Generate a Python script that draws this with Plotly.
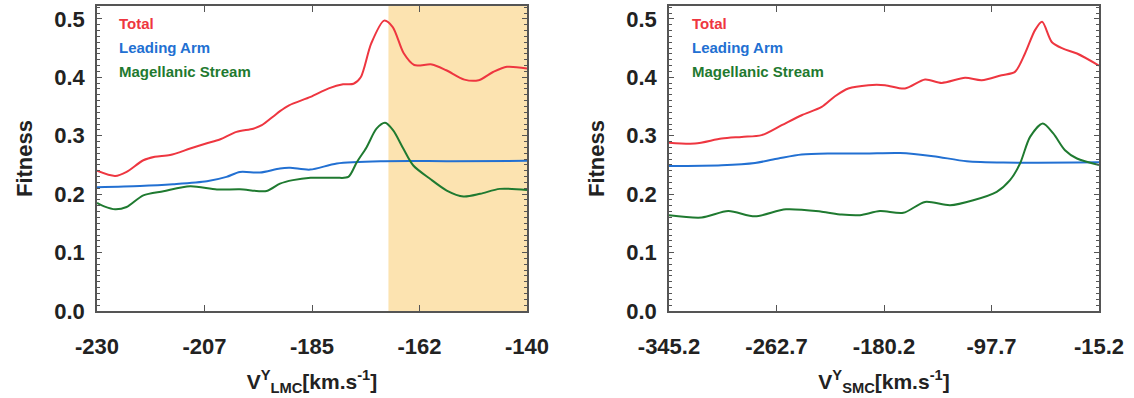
import plotly.graph_objects as go

# ---------------- data: LMC panel ----------------
lmc_total_x = [-230, -226.2, -223.8, -220.3, -217.9, -214.7, -210.5, -207.0, -204.3, -200.8,
               -197.3, -195.5, -193.1, -191.7, -189.8, -185.3, -181.5, -178.5, -176.3, -174.8,
               -172.6, -169.9, -168.1, -165.8, -163.6, -159.9, -156.9, -153.1, -150.1, -147.1,
               -144.2, -140.0]
lmc_total_y = [0.240, 0.231, 0.238, 0.258, 0.264, 0.267, 0.278, 0.287, 0.2935, 0.3065,
               0.312, 0.318, 0.333, 0.342, 0.352, 0.3665, 0.381, 0.388, 0.389, 0.400,
               0.458, 0.497, 0.486, 0.441, 0.421, 0.422, 0.412, 0.396, 0.395, 0.409,
               0.418, 0.415]

lmc_arm_x = [-230, -221.0, -214.1, -207.0, -202.9, -200.1, -195.9, -191.7, -189.6, -185.4,
             -179.8, -170.1, -156.1, -140.0]
lmc_arm_y = [0.212, 0.214, 0.217, 0.222, 0.2295, 0.238, 0.237, 0.244, 0.245, 0.242,
             0.2524, 0.2563, 0.2565, 0.257]

lmc_stream_x = [-230, -228.5, -226.2, -223.8, -220.3, -216.1, -210.5, -204.9, -200.1, -194.5,
                -191.7, -189.0, -185.3, -180.0, -177.4, -175.6, -173.6, -171.5, -169.7, -168.0,
                -165.9, -163.8, -160.3, -156.8, -153.3, -149.8, -145.7, -140.0]
lmc_stream_y = [0.185, 0.179, 0.174, 0.178, 0.198, 0.205, 0.2135, 0.208, 0.2084, 0.2055,
                0.218, 0.224, 0.228, 0.228, 0.2295, 0.255, 0.280, 0.312, 0.322, 0.309,
                0.278, 0.249, 0.2263, 0.2062, 0.1959, 0.2005, 0.209, 0.207]

lmc_shade = [-169.0, -140.0]

# ---------------- data: SMC panel ----------------
smc_total_x = [-345.2, -325.2, -304.8, -289.4, -274.1, -258.7, -243.4, -228.0, -217.8, -207.6,
               -192.2, -179.4, -164.1, -148.7, -135.9, -118.0, -105.2, -89.9, -79.7, -72.0,
               -64.3, -58.9, -51.3, -42.8, -32.1, -15.2]
smc_total_y = [0.288, 0.2866, 0.2952, 0.298, 0.301, 0.318, 0.335, 0.3493, 0.3676, 0.3808,
               0.3865, 0.3865, 0.3808, 0.3962, 0.3904, 0.399, 0.395, 0.4036, 0.4093, 0.4407,
               0.4807, 0.495, 0.460, 0.449, 0.4407, 0.420]

smc_arm_x = [-345.2, -304.8, -279.2, -261.3, -243.4, -220.3, -194.8, -167.9, -142.4, -116.7,
             -88.6, -15.2]
smc_arm_y = [0.248, 0.2495, 0.2534, 0.261, 0.2678, 0.2695, 0.2695, 0.2705, 0.265, 0.2563,
             0.254, 0.2545]

smc_stream_x = [-345.2, -320.1, -299.7, -279.2, -255.4, -228.0, -212.7, -198.6, -183.3, -165.4,
                -148.7, -129.5, -111.7, -93.7, -83.5, -75.8, -68.1, -58.4, -50.3, -41.3,
                -32.1, -15.2]
smc_stream_y = [0.164, 0.160, 0.171, 0.162, 0.174, 0.170, 0.165, 0.164, 0.171, 0.168,
                0.1866, 0.181, 0.1896, 0.204, 0.224, 0.2524, 0.298, 0.321, 0.304, 0.2752,
                0.261, 0.250]

# ---------------- axis ticks ----------------
lmc_tickvals = [-230, -207.5, -185, -162.5, -140]
lmc_ticktext = ["-230", "-207", "-185", "-162", "-140"]
smc_tickvals = [-345.2, -262.7, -180.2, -97.7, -15.2]
smc_ticktext = ["-345.2", "-262.7", "-180.2", "-97.7", "-15.2"]
y_tickvals = [0.0, 0.1, 0.2, 0.3, 0.4, 0.5]
y_ticktext = ["0.0", "0.1", "0.2", "0.3", "0.4", "0.5"]

series_names = ["Total", "Leading Arm", "Magellanic Stream"]
colors = ["#EE3640", "#2270D2", "#1F7A30"]

fig = go.Figure()

panels = [
    ("x", "y", [(lmc_total_x, lmc_total_y), (lmc_arm_x, lmc_arm_y), (lmc_stream_x, lmc_stream_y)]),
    ("x2", "y2", [(smc_total_x, smc_total_y), (smc_arm_x, smc_arm_y), (smc_stream_x, smc_stream_y)]),
]
for xa, ya, series in panels:
    for (sx, sy), name, col in zip(series, series_names, colors):
        fig.add_trace(go.Scatter(x=sx, y=sy, mode="lines", name=name, xaxis=xa, yaxis=ya,
                                 line=dict(color=col, width=2, shape="spline", smoothing=0.8),
                                 showlegend=False))

# shaded region in the LMC panel
fig.add_shape(type="rect", xref="x", yref="y domain", x0=lmc_shade[0], x1=lmc_shade[1],
              y0=0, y1=1, fillcolor="#FCE3B0", line_width=0, layer="below")

FONT = "Liberation Sans, Arial, sans-serif"
ink = "#222222"
axcol = "#555555"

ydom = [87 / 398, 392 / 398]
common_x = dict(showline=True, linecolor=axcol, linewidth=1.5, mirror="allticks",
                ticks="inside", ticklen=6, tickcolor=axcol, tickwidth=1.2, automargin=False,
                showgrid=False, zeroline=False,
                tickfont=dict(family=FONT, size=22, color=ink, weight="bold"),
                ticklabelstandoff=15, tickmode="array")
common_y = dict(showline=True, linecolor=axcol, linewidth=1.5, mirror="allticks",
                ticks="inside", ticklen=5, tickcolor=axcol, tickwidth=1.2, automargin=False,
                showgrid=False, zeroline=False, range=[0, 0.522], domain=ydom,
                tickmode="array", tickvals=y_tickvals, ticktext=y_ticktext,
                tickfont=dict(family=FONT, size=22, color=ink, weight="bold"), ticklabelstandoff=6,
                minor=dict(dtick=0.01, ticklen=3, ticks="inside", tickcolor=axcol, tickwidth=1),
                title=dict(text="Fitness", font=dict(family=FONT, size=22, color=ink, weight="bold"),
                           standoff=16))

fig.update_layout(
    width=1134, height=398, margin=dict(l=0, r=0, t=0, b=0),
    paper_bgcolor="white", plot_bgcolor="white",
    xaxis=dict(domain=[97 / 1134, 527 / 1134], range=[-230, -140], anchor="y",
               tickvals=lmc_tickvals, ticktext=lmc_ticktext,
               title=dict(text="V<sup>Y</sup><sub>LMC</sub>[km.s<sup>-1</sup>]",
                          font=dict(family=FONT, size=21, color=ink, weight="bold"), standoff=16),
               **common_x),
    xaxis2=dict(domain=[669 / 1134, 1099 / 1134], range=[-345.2, -15.2], anchor="y2",
                tickvals=smc_tickvals, ticktext=smc_ticktext,
                title=dict(text="V<sup>Y</sup><sub>SMC</sub>[km.s<sup>-1</sup>]",
                           font=dict(family=FONT, size=21, color=ink, weight="bold"), standoff=16),
                **common_x),
    yaxis=dict(anchor="x", **common_y),
    yaxis2=dict(anchor="x2", **common_y),
)

# in-plot legend texts
legend_y = [24, 48, 72]
for xa, ya, xpix, x0 in [("x", "y", 117, 97), ("x2", "y2", 690, 669)]:
    for name, col, ypix in zip(series_names, colors, legend_y):
        fig.add_annotation(xref=f"{xa} domain", yref=f"{ya} domain",
                           x=(xpix - x0) / 430, y=(311 - ypix) / 305,
                           text=name, showarrow=False, xanchor="left", yanchor="middle",
                           font=dict(family=FONT, size=15, color=col, weight="bold"))

fig.write_html("out.html")
